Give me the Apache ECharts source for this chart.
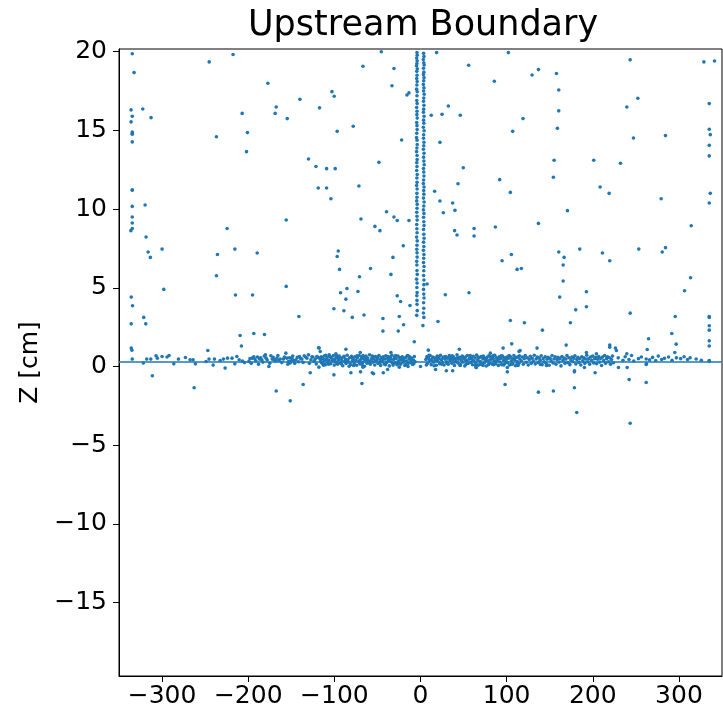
<!DOCTYPE html>
<html>
<head>
<meta charset="utf-8">
<script src="https://cdn.jsdelivr.net/npm/echarts@6/dist/echarts.min.js"></script>
<style>
html,body{margin:0;padding:0;background:#fff;}
#chart{width:723px;height:717px;}
</style>
</head>
<body>
<div id="chart"></div>
<script>
// ---- Data: [x, Z] ----
var titleText = 'Upstream Boundary';
var yAxisName = 'Z [cm]';
var xTicks = [-300, -200, -100, 0, 100, 200, 300];
var yTicks = [-15, -10, -5, 0, 5, 10, 15, 20];
var lineZ = 0.3;

// scattered points away from the band
var scatterPts = [
[-334.6,19.87],[-332.5,18.67],[-245.3,19.35],[-217.6,19.82],[-177.2,17.99],[-140,16.97],[-336,16.3],[-322.4,16.36],[-334.6,15.9],[-312.8,15.81],[-336,15.54],[-207,16.08],[-168.7,16.08],[-167.5,16.49],[-154.7,15.75],[-117.2,16.43],[-334.6,14.9],[-334.6,14.8],[-334.6,14.75],[-236.9,14.6],[-200.9,14.86],[-334.6,14.27],[-202,13.65],[-130,13.18],[-121.4,12.71],[-334.6,11.23],[-334.6,11.2],[-118.7,11.34],[-334.6,10.17],[-319.7,10.26],[-155.9,9.31],[-334.6,9.5],[-334.6,9.12],[-334.6,8.77],[-224.5,8.77],
[-45.5,20.0],[18.7,19.94],[102,19.94],[-66.8,19.07],[-30.8,18.93],[55.9,19.14],[-33.1,17.84],[85.7,18.12],[-102.8,17.46],[-100.2,17.17],[-15.7,17.25],[-13.4,17.38],[32.3,16.55],[12.5,15.96],[25,16.02],[46.2,15.96],[119,15.75],[-78.1,15.26],[-96.7,14.94],[107,14.94],[-21.9,14.39],[22.6,14.24],[-48.3,12.97],[-109,12.57],[-99,12.57],[49.7,12.63],[91.9,11.87],[-109,11.34],[-71.5,11.47],[43.5,11.61],[16.4,11.13],[104.3,11.06],[-104,10.66],[22.6,10.51],[37.3,10.39],[40,9.92],[26.5,9.77],[-39.4,9.83],[-30.8,9.5],[-27,9.28],[-13.4,9.28],[-69.1,9.37],[-52.9,8.9],[62.2,8.77],[86.9,8.86],
[243.4,19.48],[329,19.35],[341.3,19.41],[136.9,18.86],[129.5,18.52],[157.8,18.61],[160.5,17.57],[252.3,17.04],[239.5,16.49],[335.2,16.7],[160.5,16.24],[158.9,15.13],[335.2,15.07],[336.4,14.73],[247.2,14.52],[284.4,14.67],[335.2,14.05],[335.2,13.38],[155.1,13.1],[201.1,13.1],[232.1,12.91],[154.3,12.02],[208.5,11.4],[219,11.0],[279.4,10.66],[336.4,11.0],[335.2,10.39],[170.6,9.9],[136.9,9.09],[314.3,8.94],
[-336.2,8.63],[-318.6,8.23],[-316.2,7.27],[-313.6,6.93],[-300,7.46],[-235.7,7.12],[-215.5,7.46],[-189.6,7.21],[-236.9,5.77],[-298,4.9],[-155.9,5.09],[-335.8,4.41],[-334.3,3.86],[-214.8,4.54],[-195,4.54],[-321.3,3.12],[-318.9,2.71],[-335.8,2.71],[-141.2,3.18],[-209.4,1.97],[-193.5,2.1],[-181.1,2.03],[-207.9,1.3],[-335.8,1.17],[-335,1.04],[-246.9,1.02],[-118.4,1.19],[-311.3,-0.59],[-128,-0.4],[-136.2,-1.14],[-262.8,-1.35],[-167.5,-1.56],[-151.2,-2.18],
[-47.1,8.63],[39.6,8.63],[42.4,8.35],[62.2,8.29],[-20,7.67],[-95.5,7.34],[-96.7,6.99],[-94,6.17],[-58,6.23],[-32,6.93],[-34.3,5.85],[-70.8,5.7],[105.5,7.12],[94.7,6.72],[112.1,6.17],[117.1,6.23],[-92.8,4.69],[-85.4,4.96],[-86.6,4.28],[-72.6,4.77],[-100.5,3.67],[-88.9,3.54],[-79.2,3.12],[-65.6,3.27],[-27,4.49],[-23.1,4.13],[-24.6,3.18],[-12.2,3.88],[-43.6,3.05],[-43.6,2.25],[-25.8,2.25],[-19.6,2.65],[28.8,4.56],[56.3,4.69],[20.3,2.86],[104.3,2.92],[120.6,2.78],[-7.2,1.57],[-117.6,1.17],[-86.6,1.1],[9.1,1.04],[45.1,1.1],[95.9,1.17],[105.9,1.44],[115.6,1.02],[-100.5,-0.53],[-80.8,-0.4],[-69.6,-0.34],[-56,-0.4],[-54.5,-0.46],[-43.2,-0.4],[-38.2,-0.19],[-68,-1.08],[17.5,-0.19],[30,-0.27],[37.3,-0.27],[100.8,-0.06],[100.8,-0.34],[98.2,-1.14],[64.8,-0.06],[0,0.0],
[160.5,7.27],[166.7,6.93],[184.9,7.46],[211.2,7.21],[219.7,6.72],[253.4,7.46],[280.6,7.27],[284.4,7.55],[165.6,6.45],[165.6,5.43],[313.5,5.64],[306.5,4.81],[192.6,4.75],[161.6,4.41],[192.6,3.8],[180.2,3.6],[141.5,2.31],[174,2.78],[243.4,3.39],[295.7,3.18],[335.2,3.18],[335.2,3.12],[335.2,2.59],[335.2,2.31],[335.2,1.63],[335.2,1.3],[291.7,2.1],[264.7,1.76],[296.8,1.42],[263.2,1.08],[169.1,1.36],[135.3,1.17],[219.7,1.36],[219.7,1.23],[226.3,1.17],[227.5,1.02],[239.5,0.81],[295.2,0.89],[192.6,0.89],[204.2,0.81],[335.2,0.34],[113.3,0.06],[139.2,0.13],[146.2,0.06],[190.3,-0.06],[178.7,-0.27],[178.7,-0.34],[202.7,-0.4],[229.8,-0.06],[239.9,-0.06],[262,0.13],[242.2,-0.83],[262,-1.02],[136.9,-1.63],[154.3,-1.56],[178.7,-1.35],[181.4,-2.92],[243.4,-3.6],
[-116.4,0.95],[-106,0.74],[-98.2,0.81],[-97,0.68],[-69.9,0.89],[-66.8,0.7],[-77.7,0.06],[-66.8,-0.04],[-34.3,0.89],[-24.6,-0.04],[-14.5,0.0],[46.2,0.06],[52.9,0.15],[64.5,-0.06],[72.6,0.06],[81.1,0.85],[85,0.11],[114.4,0.95],[262.3,0.17],[335.2,0.38],[7.6,5.24]
];

// band near Z ~ 0.3, left part (x < -117)
var bandLeft = [
[-334.6,0.47],[-321.8,0.22],[-317.8,0.47],[-313.1,0.47],[-307,0.68],[-305.5,0.53],[-300,0.64],[-294.2,0.6],[-291.9,0.7],[-286.4,0.17],[-281,0.47],[-272.9,0.57],[-267.5,0.43],[-264,0.43],[-261.3,0.17],[-248.9,0.32],[-245.5,0.47],[-240.7,0.09],[-239.2,0.47],[-232.6,0.38],[-228.8,0.47],[-226.8,-0.1],[-224.1,0.53],[-218.8,0.53],[-215.5,0.17],[-213.2,0.64],[-210.5,0.43],[-206.7,0.34],[-204.3,0.25],[-199.3,0.32],[-195.4,0.53],[-192.3,0.47],[-189.3,0.6],[-186.9,0.47],[-184.2,0.43],[-180,0.74],[-179.2,0.53],[-176,0],[-173.7,0.68],[-172.2,0.47],[-169.9,0.43],[-166.7,0.53],[-164.4,0.38],[-162.9,0.47],[-156.3,0.85],[-159.1,0.47],[-155.1,0.53],[-153.2,0.32],[-151.3,0.22],[-149.3,0.53],[-147.4,0.38],[-144.7,0.43],[-140.5,0.64],[-137.7,0.47],[-135,0.68],[-131.9,0.53],[-130,0.74],[-127.2,0.43],[-124.9,0.6],[-122.2,0.47],[-120.3,0.64],[-117.2,0.53],[-117.9,-0.04],
[-198,0.5],[-196.5,0.2],[-193.5,0.62],[-191,0.35],[-188,0.14],[-185.5,0.55],[-183,0.28],[-181.3,0.66],[-178,0.42],[-175,0.2],[-171,0.58],[-168.5,0.36],[-165.5,0.7],[-161,0.25],[-158,0.6],[-154,0.15],[-152,0.55],[-150.2,0.36],[-148.3,0.66],[-146,0.2],[-143,0.58],[-141.6,0.3],[-139,0.5],[-136.3,0.26],[-133.4,0.6],[-129,0.2],[-126,0.62],[-123.5,0.34],[-121,0.16],[-119,0.58]
];

// band, central part (-117 < x < 117), gap around x = 0
var bandCenter = [
[-116,0.42],[-115,0.61],[-114.2,0.2],[-113,0.5],[-112,0.33],[-111.3,0.68],[-110.5,0.12],[-109.6,0.45],[-108.4,0.57],[-107.5,0.25],[-106.3,0.4],[-105.5,0.63],[-104.2,0.18],[-103.1,0.52],[-102.2,0.36],[-101,0.7],[-100.1,0.09],[-99.3,0.47],[-98.4,0.29],[-97.5,0.58],[-96.2,0.14],[-95.4,0.41],[-94.3,0.66],[-93.2,0.24],[-92.1,0.53],[-91.3,0.38],[-90.2,0.05],[-89.4,0.6],[-88.1,0.31],[-87.2,0.48],[-86.4,0.19],[-85.1,0.72],[-84.3,0.43],[-83.1,0.27],[-82.3,0.56],[-81.2,0.12],[-80.1,0.65],[-79.2,0.35],[-78.3,0.5],[-77.1,0.22],[-76.2,0.62],[-75.4,0.4],[-74.1,0.08],[-73.3,0.55],[-72.1,0.3],[-71.2,0.7],[-70.4,0.17],[-69.2,0.46],[-68.3,0.6],[-67.1,0.26],[-66.2,0.51],[-65.1,0.02],[-64.3,0.39],[-63.2,0.67],[-62.1,0.21],[-61.3,0.54],[-60.2,0.33],[-59.1,0.75],[-58.3,0.14],[-57.2,0.44],[-56.1,0.59],[-55.3,0.28],[-54.2,0.49],[-53.1,0.1],[-52.3,0.64],[-51.2,0.37],[-50.1,0.52],[-49.3,0.2],[-48.2,0.7],[-47.1,0.42],[-46.3,0.06],[-45.2,0.57],[-44.1,0.32],[-43.3,0.62],[-42.2,0.16],[-41.1,0.47],[-40.3,0.68],[-39.2,0.25],[-38.1,0.53],[-37.3,0.38],[-36.2,0.04],[-35.1,0.6],[-34.3,0.3],[-33.2,0.72],[-32.1,0.19],[-31.3,0.45],[-30.2,0.58],[-29.1,0.23],[-28.3,0.5],[-27.2,0.11],[-26.1,0.66],[-25.3,0.36],[-24.2,0.55],[-23.1,0.15],[-22.3,0.43],[-21.2,0.62],[-20.1,0.27],[-19.3,0.49],[-18.2,0.07],[-17.1,0.58],[-16.3,0.34],[-15.2,0.7],[-14.1,0.2],[-13.3,0.46],[-12.2,0.6],[-11.1,0.25],[-10.3,0.52],[-9.2,0.13],[-8.1,0.4],[-7.2,0.63],[-6.3,0.3],
[-115.5,0.28],[-112.6,0.08],[-110,0.72],[-106.8,0.15],[-103.7,0.6],[-100.6,0.38],[-97,0.22],[-94.8,0.5],[-91.7,0.16],[-88.7,0.65],[-85.7,0.35],[-82.8,0.02],[-79.7,0.55],[-76.7,0.11],[-73.7,0.68],[-70.9,0.37],[-67.7,0.1],[-64.8,0.58],[-61.7,0.44],[-58.7,0.24],[-55.8,0.66],[-52.7,0.34],[-49.8,0.58],[-46.8,0.26],[-43.8,0.47],[-40.7,0.12],[-37.8,0.64],[-34.7,0.5],[-31.8,0.09],[-28.8,0.7],[-25.7,0.2],[-22.8,0.56],[-19.8,0.38],[-16.8,0.13],[-13.8,0.66],[-10.8,0.42],[-7.8,0.18],
[6.2,0.45],[7.3,0.62],[8.2,0.2],[9.4,0.52],[10.3,0.36],[11.2,0.7],[12.4,0.12],[13.3,0.48],[14.2,0.6],[15.4,0.27],[16.3,0.55],[17.2,0.4],[18.4,0.08],[19.3,0.66],[20.2,0.33],[21.4,0.5],[22.3,0.18],[23.2,0.72],[24.4,0.43],[25.3,0.25],[26.2,0.58],[27.4,0.1],[28.3,0.47],[29.2,0.64],[30.4,0.3],[31.3,0.53],[32.2,0.15],[33.4,0.69],[34.3,0.38],[35.2,0.56],[36.4,0.21],[37.3,0.44],[38.2,0.61],[39.4,0.06],[40.3,0.5],[41.2,0.34],[42.4,0.74],[43.3,0.23],[44.2,0.47],[45.4,0.59],[46.3,0.13],[47.2,0.42],[48.4,0.67],[49.3,0.28],[50.2,0.52],[51.4,0.04],[52.3,0.6],[53.2,0.37],[54.4,0.7],[55.3,0.19],[56.2,0.46],[57.4,0.57],[58.3,0.26],[59.2,0.5],[60.4,0.11],[61.3,0.65],[62.2,0.35],[63.4,0.54],[64.3,0.2],[65.2,0.73],[66.4,0.41],[67.3,0.09],[68.2,0.56],[69.4,0.31],[70.3,0.63],[71.2,0.16],[72.4,0.48],[73.3,0.6],[74.2,0.24],[75.4,0.51],[76.3,0.03],[77.2,0.58],[78.4,0.36],[79.3,0.68],[80.2,0.22],[81.4,0.45],[82.3,0.62],[83.2,0.14],[84.4,0.5],[85.3,0.33],[86.2,0.71],[87.4,0.18],[88.3,0.55],[89.2,0.4],[90.4,0.07],[91.3,0.61],[92.2,0.29],[93.4,0.52],[94.3,0.12],[95.2,0.67],[96.4,0.38],[97.3,0.56],[98.2,0.21],[99.4,0.46],[100.3,0.6],[101.2,0.25],[102.4,0.53],[103.3,0.1],[104.2,0.64],[105.4,0.35],[106.3,0.49],[107.2,0.17],[108.4,0.7],[109.3,0.42],[110.2,0.05],[111.4,0.57],[112.3,0.32],[113.2,0.62],[114.4,0.2],[115.3,0.48],
[6.8,0.1],[9.8,0.72],[12.8,0.4],[15.8,0.05],[18.8,0.5],[21.8,0.64],[24.8,0.14],[27.8,0.6],[30.8,0.2],[33.8,0.52],[36.8,0.68],[39.8,0.28],[42.8,0.55],[45.8,0.08],[48.8,0.62],[51.8,0.45],[54.8,0.24],[57.8,0.7],[60.8,0.38],[63.8,0.06],[66.8,0.6],[69.8,0.14],[72.8,0.66],[75.8,0.4],[78.8,0.12],[81.8,0.57],[84.8,0.7],[87.8,0.36],[90.8,0.5],[93.8,0.68],[96.8,0.1],[99.8,0.3],[102.8,0.7],[105.8,0.15],[108.8,0.55],[111.8,0.12],[114.8,0.68]
];

// band, right part (x > 117)
var bandRight = [
[117,0.36],[118.2,0.6],[119.4,0.14],[120.5,0.5],[121.6,0.7],[122.8,0.27],[124,0.55],[125.1,0.1],[126.3,0.44],[127.4,0.65],[128.6,0.2],[129.7,0.52],[130.9,0.35],[132,0.72],[133.2,0.16],[134.3,0.48],[135.5,0.6],[136.6,0.25],[137.8,0.54],[138.9,0.4],[140.1,0.68],[141.2,0.12],[142.4,0.5],[143.5,0.3],[144.7,0.62],[145.8,0.2],[147,0.46],[148.1,0.58],[149.3,0.08],[150.4,0.52],[151.6,0.36],[152.7,0.7],[153.9,0.22],[155,0.48],[156.2,0.62],[157.3,0.14],[158.5,0.45],[159.6,0.58],[160.8,0.28],[161.9,0.5],[163.1,0.04],[164.2,0.64],[165.4,0.38],[166.5,0.54],[167.7,0.2],[168.8,0.47],[170,0.7],[171.1,0.25],[172.3,0.56],[173.4,0.12],[174.6,0.42],[175.7,0.6],[176.9,0.3],[178,0.52],[179.2,0.68],[180.3,0.16],[181.5,0.44],[182.6,0.58],[183.8,0.26],[184.9,0.5],[186.1,0.1],[187.2,0.62],[188.4,0.36],[189.5,0.55],[190.7,0.2],[191.8,0.48],[193,0.72],[194.1,0.3],[195.3,0.5],[196.4,0.14],[197.6,0.6],[198.7,0.4],[199.9,0.66],[201,0.22],[202.2,0.5],[203.3,0.58],[204.5,0.18],[205.6,0.46],[206.8,0.64],[207.9,0.28],[209.1,0.52],[210.2,0.06],[211.4,0.6],[212.5,0.38],[213.7,0.7],[214.8,0.2],[216,0.5],[217.1,0.62],[218.3,0.3],[219.4,0.56],[220.6,0.14],[221.7,0.44],[222.9,0.66],[224,0.24],
[229.5,0.55],[235,0.4],[237.6,0.62],[242,0.45],[245,0.7],[247.6,0.35],[253,0.5],[256.4,0.6],[262,0.48],[266,0.42],[269.4,0.58],[273,0.38],[276,0.66],[280,0.45],[283.2,0.52],[288,0.6],[292,0.4],[297,0.55],[302,0.5],[306,0.62],[310,0.44],[313,0.56],[320,0.48],[326,0.4]
];

// vertical column near x = 0
var columnLeft = [
[-4.1,19.95],[-3.8,19.78],[-4.5,19.6],[-3.9,19.42],[-4.2,19.25],[-4.6,19.1],[-3.7,18.92],[-4.3,18.75],[-4.0,18.5],[-4.4,18.3],[-3.9,18.1],[-4.2,17.88],[-4.5,17.62],[-3.8,17.45],[-4.1,17.2],[-4.3,16.9],[-3.9,16.7],[-4.5,16.45],[-4.0,16.22],[-4.2,16.0],[-3.8,15.78],[-4.4,15.5],[-4.1,15.3],[-3.9,15.05],[-4.3,14.82],[-4.6,14.55],[-4.0,14.38],[-3.8,14.1],[-4.2,13.88],[-4.5,13.65],[-4.0,13.4],[-3.9,13.15],[-4.3,12.95],[-4.1,12.7],[-4.4,12.45],[-3.8,12.2],[-4.2,11.98],[-4.0,11.7],[-4.5,11.5],[-3.9,11.28],[-4.2,11.0],[-4.1,10.75],[-4.4,10.52],[-3.8,10.3],[-4.0,10.05],[-4.3,9.8],[-4.1,9.55],[-3.9,9.3],[-4.4,9.02],[-4.2,8.75],[-4.0,8.5],[-4.5,8.22],[-3.8,7.98],[-4.1,7.7],[-4.3,7.45],[-4.0,7.22],[-3.9,6.95],[-4.4,6.68],[-4.2,6.45],[-4.1,6.1],[-3.8,5.85],[-4.5,5.55],[-4.0,5.3],[-4.2,5.02],[-3.9,4.7],[-4.3,4.5],[-4.1,4.2],[-4.0,3.95],[-3.8,3.55],[-4.4,3.25]
];
var columnRight = [
[3.6,19.9],[4.0,19.7],[3.3,19.5],[3.8,19.3],[4.2,19.15],[3.5,18.95],[3.9,18.7],[3.4,18.55],[4.1,18.35],[3.7,18.15],[3.3,17.92],[4.0,17.7],[3.6,17.5],[4.3,17.3],[3.8,17.05],[3.5,16.85],[4.0,16.6],[3.7,16.35],[3.4,16.15],[4.1,15.9],[3.6,15.65],[3.9,15.45],[3.3,15.2],[4.2,14.98],[3.7,14.72],[3.5,14.5],[4.0,14.25],[3.8,14.02],[3.4,13.8],[4.1,13.55],[3.6,13.3],[3.9,13.05],[4.3,12.82],[3.5,12.58],[3.8,12.35],[4.0,12.1],[3.6,11.85],[3.3,11.62],[4.1,11.4],[3.7,11.18],[3.9,10.95],[3.5,10.7],[4.2,10.45],[3.8,10.2],[3.4,9.95],[4.0,9.72],[3.6,9.48],[3.9,9.2],[4.1,8.95],[3.5,8.7],[3.8,8.4],[4.2,8.15],[3.6,7.9],[3.9,7.62],[3.4,7.38],[4.0,7.12],[3.7,6.88],[3.5,6.6],[4.1,6.35],[3.8,6.08],[3.6,5.78],[4.0,5.5],[3.9,5.2],[3.5,4.9],[3.8,4.6],[4.1,4.35],[3.6,4.05],[3.8,3.7],[3.4,3.4],[3.9,3.12],[2.8,2.6]
];

var allPts = [].concat(scatterPts, bandLeft, bandCenter, bandRight, columnLeft, columnRight);

function fmt(v){ return String(v).replace('-', '\u2212'); }

var FONT = 'DejaVu Sans';
var chart = echarts.init(document.getElementById('chart'), null, {renderer:'canvas'});
chart.setOption({
  animation: false,
  backgroundColor: '#ffffff',
  title: {
    text: titleText,
    left: 243,
    top: 3,
    textStyle: {fontFamily: FONT, fontSize: 35, fontWeight: 'normal', color: '#000'}
  },
  grid: {
    left: 119, right: 1, top: 49, bottom: 41,
    containLabel: false, outerBoundsMode: 'none',
    show: true, borderColor: '#000', borderWidth: 1, backgroundColor: 'transparent'
  },
  xAxis: {
    type: 'value', min: -350, max: 350,
    splitLine: {show: false},
    axisLine: {show: true, onZero: false, lineStyle: {color: '#000', width: 1}},
    axisTick: {show: true, inside: false, length: 6, customValues: xTicks, lineStyle: {color: '#000', width: 1}},
    axisLabel: {show: true, customValues: xTicks, margin: 8, color: '#000', fontFamily: FONT, fontSize: 25, formatter: fmt}
  },
  yAxis: {
    type: 'value', min: -19.66, max: 20.17,
    name: yAxisName, nameLocation: 'middle', nameGap: 72,
    nameTextStyle: {fontFamily: FONT, fontSize: 25, color: '#000'},
    splitLine: {show: false},
    axisLine: {show: true, onZero: false, lineStyle: {color: '#000', width: 1}},
    axisTick: {show: true, inside: false, length: 6, customValues: yTicks, lineStyle: {color: '#000', width: 1}},
    axisLabel: {show: true, customValues: yTicks, margin: 12, color: '#000', fontFamily: FONT, fontSize: 25, formatter: fmt}
  },
  series: [{
    type: 'scatter',
    data: allPts,
    symbol: 'circle',
    symbolSize: 3.6,
    itemStyle: {color: '#1f77b4', opacity: 1},
    silent: true,
    markLine: {
      silent: true,
      symbol: ['none', 'none'],
      label: {show: false},
      lineStyle: {color: '#1f77b4', width: 1.6, type: 'solid'},
      data: [{yAxis: lineZ}]
    }
  }]
});
</script>
</body>
</html>
